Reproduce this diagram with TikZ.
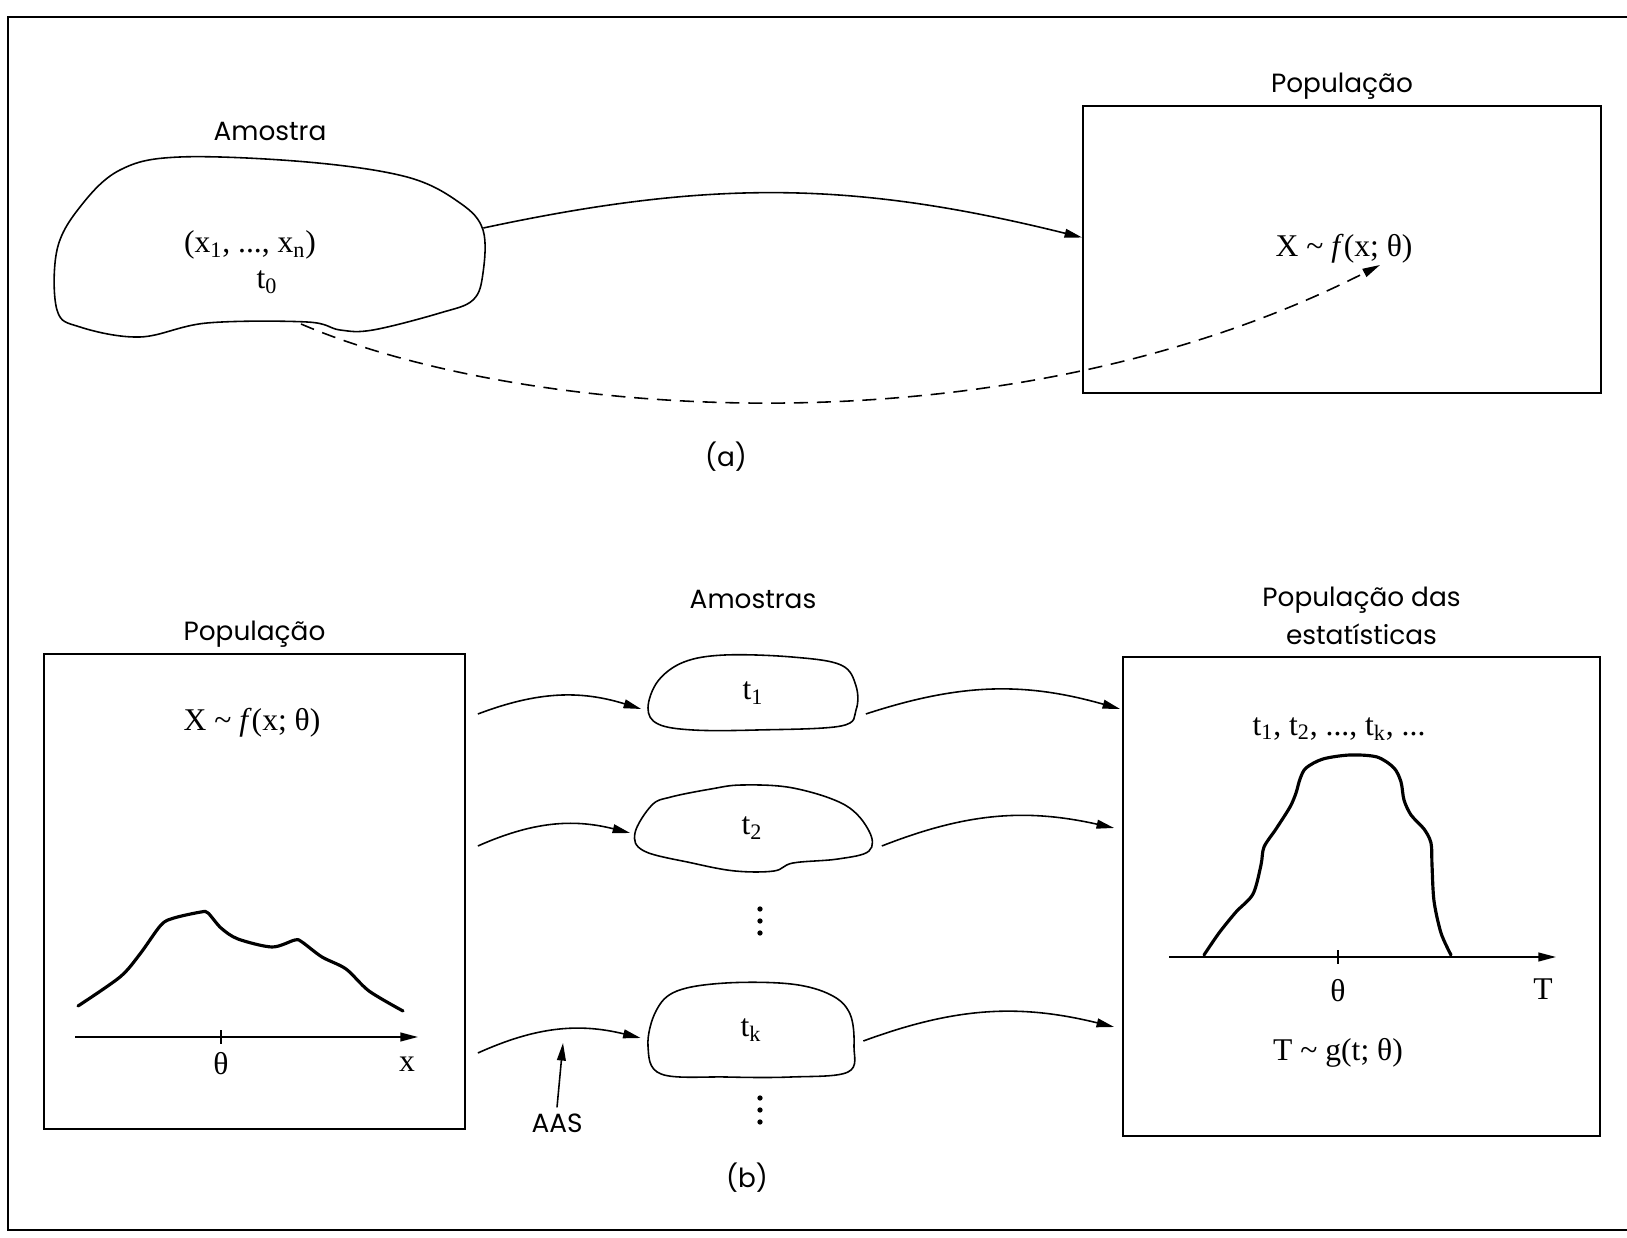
\documentclass[tikz,border=0pt]{standalone}
\usepackage{fontspec}
\setmainfont{Liberation Serif}
\setsansfont{Poppins}
\usetikzlibrary{arrows.meta, positioning, calc, fit}

\begin{document}
\begin{tikzpicture}[
        x=0.02cm, y=0.02cm,
        popbox/.style={
            draw,
            line width=1pt,
            inner sep=0pt
        },
        sample/.style={
            inner sep=0pt,
            font=\fontsize{18}{21}\selectfont
        },
        blob/.style={line width=0.9pt},
        lbl/.style={
            font=\sffamily\fontsize{15}{22}\selectfont,
            align=center
        },
        mtxt/.style={font=\fontsize{18}{21}\selectfont},
        flow/.style={
            -{Triangle[length=10pt, width=5pt]},
            line width=0.9pt
        },
        axisline/.style={
            -{Triangle[length=10pt, width=5pt]},
            line width=0.9pt
        },
        dens/.style={line width=1.8pt, line join=round, line cap=round}
    ]

    \useasboundingbox (0,0) rectangle (1627,1238);

    % Frame
    \draw[line width=1.2pt] (1627,1221) -- (8,1221) -- (8,8) -- (1627,8);

    % (a) Sample and population
    \node[sample, fit={(57,901) (483,1081)}] (amostra) {};
    \draw[blob] plot[smooth cycle, tension=0.6] coordinates {(57,988) (80,1031) (120,1068) (180,1081) (307,1076) (407,1061) (460,1035) (483,1008) (483,965) (473,938) (440,925) (373,908) (340,908) (307,916) (207,915) (140,901) (80,911) (57,928)};
    \node[lbl, above=0.2cm of amostra] (amostra-lbl) {Amostra};
    \node[mtxt] (xs) at (250,993) {(x\textsubscript{1}, ..., x\textsubscript{n})};
    \node[mtxt] (t0) at (267,956) {t\textsubscript{0}};

    \node[popbox, fit={(1083,845) (1601,1132)}] (popA) {};
    \node[lbl, above=0pt of popA] (popA-lbl) {População};
    \node[mtxt] (fA) at (1344,989) {X \textasciitilde\ \textit{f}(x; θ)};

    \draw[flow] ($(amostra.east)+(0,19)$) to[bend left=13] ($(popA.west)+(0,12)$);
    \draw[flow, dash pattern=on 8pt off 5pt] ($(t0)+(34,-42)$) .. controls +(219,-94) and +(-380,-193) .. ($(fA)+(36,-16)$);

    \node[lbl] (capA) at (726,781) {(a)};

    % (b) Population of X
    \node[popbox, fit={(44,109) (465,584)}] (popB) {};
    \node[lbl, above=0pt of popB] (popB-lbl) {População};
    \node[mtxt] (fB) at (252,515) {X \textasciitilde\ \textit{f}(x; θ)};
    \draw[dens] plot[smooth, tension=0.5] coordinates {(78,232) (120,261) (140,284) (161,313) (174,320) (201,326) (208,325) (221,310) (238,299) (272,291) (295,298) (302,296) (322,281) (346,269) (369,247) (403,227)};
    \draw[axisline] (75,201) -- (418,201);
    \draw[line width=0.9pt] (221,194) -- (221,208);
    \node[mtxt] (thB) at (221,174) {θ};
    \node[mtxt] (xB) at (407,174) {x};

    % Samples
    \node[sample, minimum width=4.3cm, minimum height=1.54cm] (s1) at (753,545) {t\textsubscript{1}};
    \draw[blob, shift={(753,545)}] plot[smooth cycle, tension=0.6] coordinates {(-105,-15) (-95,12) (-69,31) (-28,38) (39,36) (88,28) (103,7) (103,-17) (88,-33) (4,-37) (-60,-37) (-95,-31)};
    \node[sample, minimum width=4.78cm, minimum height=1.78cm] (s2) at (752,410) {t\textsubscript{2}};
    \draw[blob, shift={(752,410)}] plot[smooth cycle, tension=0.6] coordinates {(-117,-5) (-100,23) (-81,31) (-41,39) (-10,43) (41,40) (93,23) (117,-3) (117,-23) (86,-31) (41,-35) (22,-43) (-17,-43) (-60,-35) (-108,-23)};
    \node[sample, minimum width=4.2cm, minimum height=1.96cm] (sk) at (751,208) {t\textsubscript{k}};
    \draw[blob, shift={(751,208)}] plot[smooth cycle, tension=0.6] coordinates {(-103,-16) (-95,19) (-74,39) (-25,47) (40,46) (80,35) (99,16) (103,-16) (97,-42) (40,-47) (-25,-47) (-90,-44)};
    \node[lbl, above=0.78cm of s1] (s-lbl) {Amostras};
    % vertical dots
    \foreach \yy in {305,317,329,116,128,140}
        \fill (760,\yy) circle[radius=1.5pt];

    % Population of the statistic
    \node[popbox, fit={(1123,102) (1600,581)}] (popC) {};
    \node[lbl, above=0.1cm of popC] (popC-lbl) {População das\\estatísticas};
    \node[mtxt] (tlist) at (1339,509) {t\textsubscript{1}, t\textsubscript{2}, ..., t\textsubscript{k}, ...};
    \draw[dens] plot[smooth, tension=0.5] coordinates {(1204,283) (1219,305) (1236,326) (1253,344) (1261,373) (1264,391) (1276,409) (1290,431) (1296,445) (1300,459) (1306,470) (1323,479) (1350,483) (1377,481) (1394,470) (1401,456) (1404,438) (1411,423) (1424,409) (1431,395) (1432,373) (1434,337) (1441,305) (1451,283)};
    \draw[axisline] (1169,281) -- (1556,281);
    \draw[line width=0.9pt] (1338,274) -- (1338,288);
    \node[mtxt] (thC) at (1338,247) {θ};
    \node[mtxt] (tC) at (1543,249) {T};
    \node[mtxt] (gC) at (1338,185) {T \textasciitilde\ g(t; θ)};

    % Sampling arrows
    \draw[flow] ($(popB.east |- s1)+(12,-21)$) to[bend left=19] ($(s1.west)+(-4,-16)$);
    \draw[flow] ($(popB.east |- s2)+(12,-18)$) to[bend left=19] ($(s2.west)+(-2,-5)$);
    \draw[flow] ($(popB.east |- sk)+(12,-23)$) to[bend left=19] ($(sk.west)+(-5,-8)$);

    \draw[flow] ($(s1.east)+(5,-21)$) to[bend left=17] ($(popC.west |- s1)+(-2,-16)$);
    \draw[flow] ($(s2.east)+(10,-18)$) to[bend left=17] ($(popC.west |- s2)+(-8,0)$);
    \draw[flow] ($(sk.east)+(7,-11)$) to[bend left=17] ($(popC.west |- sk)+(-8,3)$);

    \node[lbl] (aas) at (557,115) {AAS};
    \coordinate (aas-tip) at (563,195);
    \draw[flow] (aas.north) -- (aas-tip);

    \node[lbl] (capB) at (747,60) {(b)};

\end{tikzpicture}
\end{document}
